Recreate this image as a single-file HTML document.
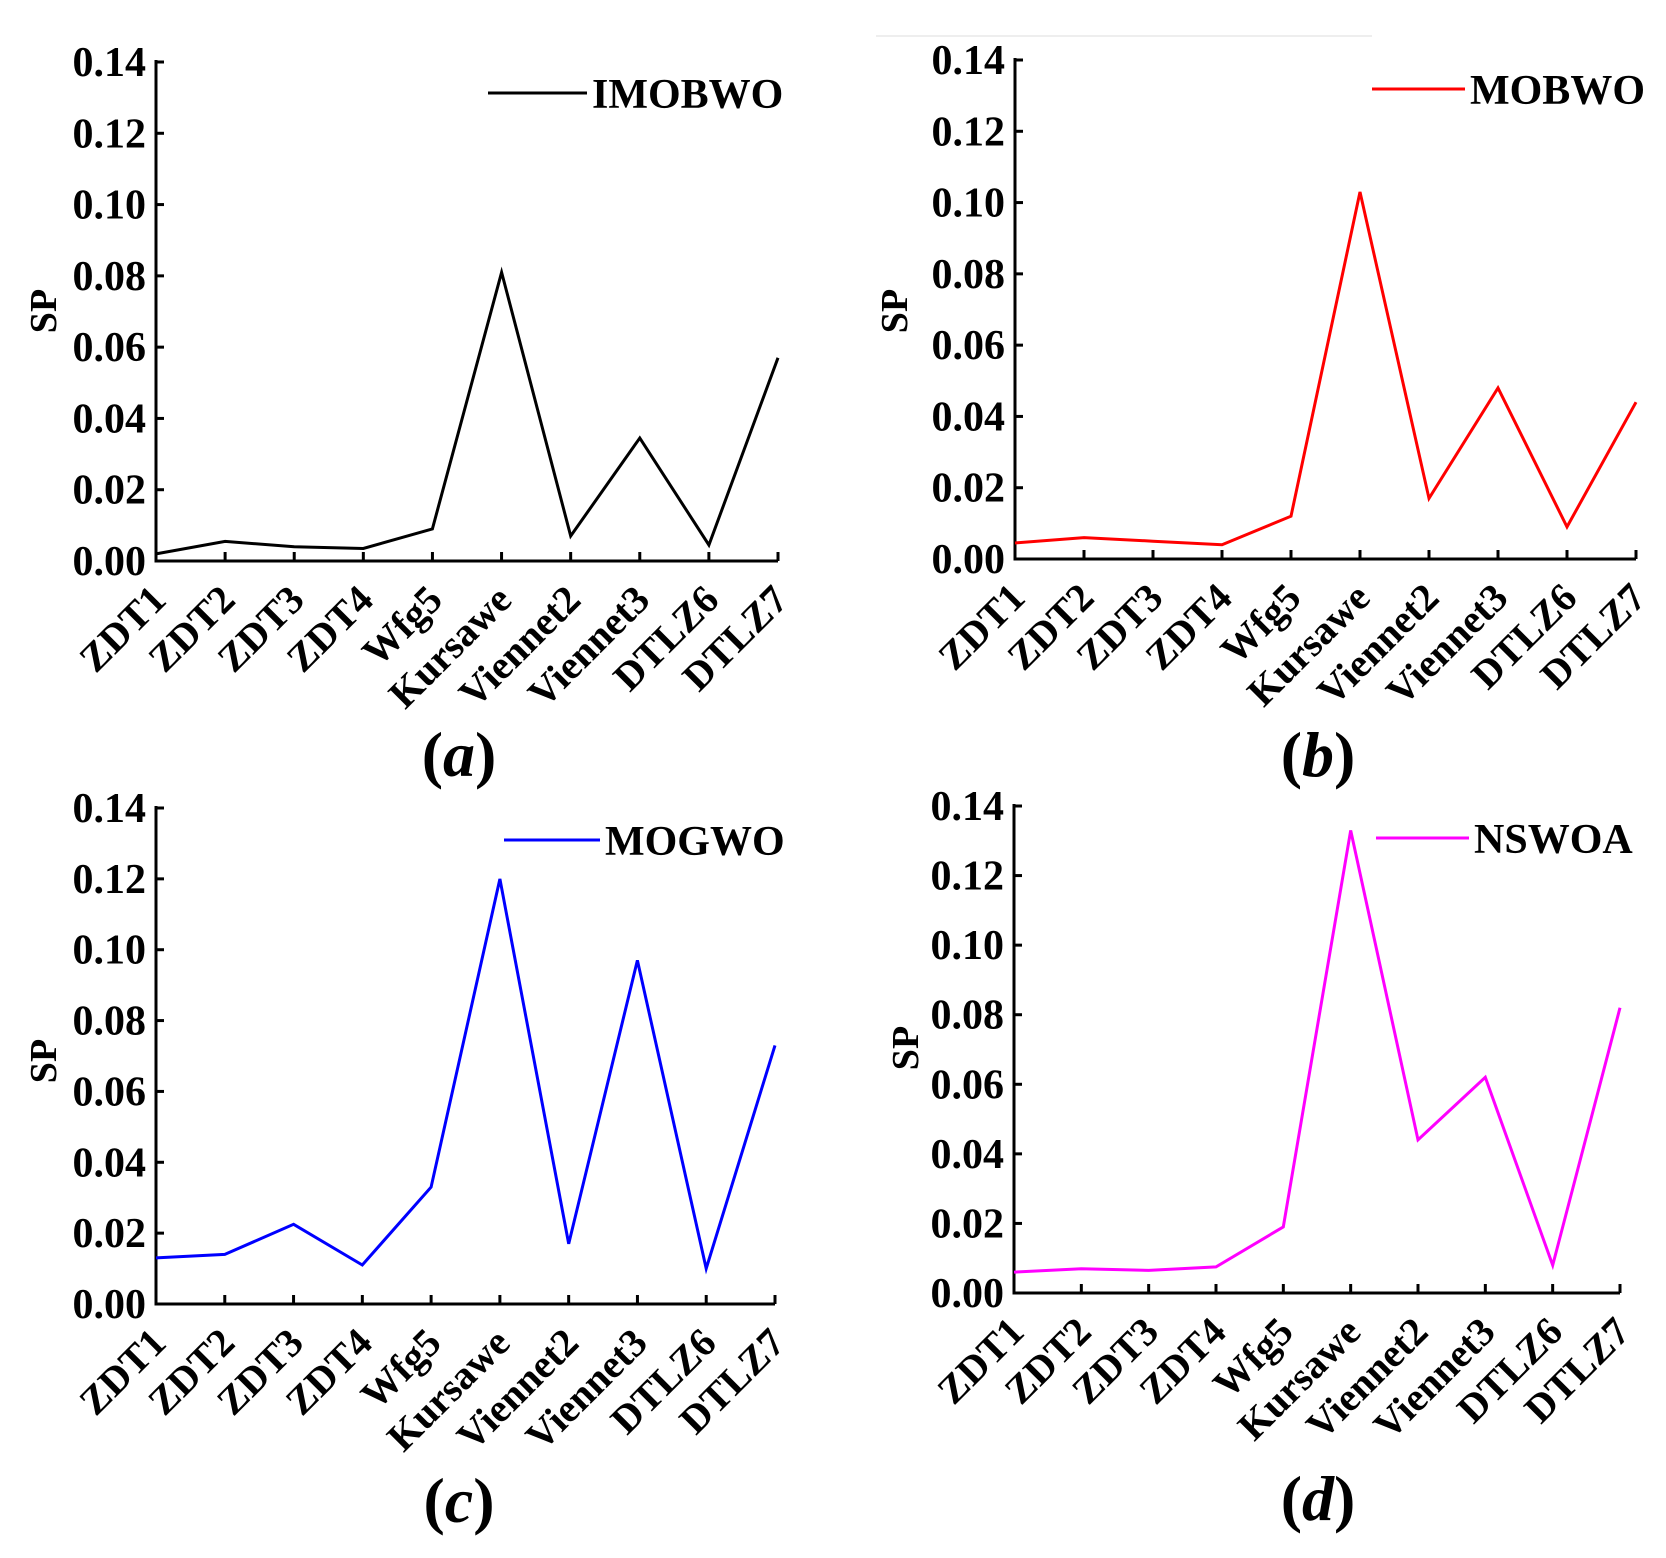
<!DOCTYPE html>
<html><head><meta charset="utf-8"><style>
html,body{margin:0;padding:0;background:#fff;}
svg{display:block;font-family:"Liberation Serif",serif;font-weight:bold;}
</style></head><body>
<svg id="fig" width="1666" height="1558" viewBox="0 0 1666 1558">
<line x1="876" y1="36" x2="1372" y2="36" stroke="#eee" stroke-width="2"/>
</svg>
<script>
const categories = ["ZDT1","ZDT2","ZDT3","ZDT4","Wfg5","Kursawe","Viennet2","Viennet3","DTLZ6","DTLZ7"];
const yTicks = [0,0.02,0.04,0.06,0.08,0.10,0.12,0.14];
const yTickLabels = ["0.00","0.02","0.04","0.06","0.08","0.10","0.12","0.14"];
const seriesA = [0.002,0.0055,0.004,0.0035,0.009,0.081,0.007,0.0345,0.0045,0.057];
const seriesB = [0.0045,0.006,0.005,0.004,0.012,0.103,0.017,0.048,0.009,0.044];
const seriesC = [0.013,0.014,0.0225,0.011,0.033,0.120,0.017,0.097,0.010,0.073];
const seriesD = [0.006,0.007,0.0065,0.0075,0.019,0.133,0.044,0.062,0.008,0.082];
const seriesNames = ["IMOBWO","MOBWO","MOGWO","NSWOA"];
const captions = ["(a)","(b)","(c)","(d)"];

const NS="http://www.w3.org/2000/svg";
const svg=document.getElementById('fig');
function mk(tag,attrs,parent){const e=document.createElementNS(NS,tag);for(const k in attrs)e.setAttribute(k,attrs[k]);(parent||svg).appendChild(e);return e;}

const panels=[
 {id:'a',data:seriesA,color:'#000',x0:156,x1:778,y0:561,y14:62,leg:[488,587,93],sp:[43,311],cap:[459,754]},
 {id:'b',data:seriesB,color:'#ff0000',x0:1015,x1:1636,y0:559,y14:60,leg:[1372,1465,89],sp:[894,311],cap:[1318,754]},
 {id:'c',data:seriesC,color:'#0000ff',x0:156,x1:775,y0:1304,y14:808,leg:[504,600,840],sp:[43,1061],cap:[459,1500]},
 {id:'d',data:seriesD,color:'#ff00ff',x0:1014,x1:1620,y0:1293,y14:806,leg:[1376,1469,838],sp:[905,1048],cap:[1318,1498]}
];

panels.forEach((p,pi)=>{
  const g=mk('g',{});
  
  
  const xs=i=>p.x0+(p.x1-p.x0)*i/(categories.length-1);
  const ys=v=>p.y0-(p.y0-p.y14)*v/0.14;
  const ax=mk('path',{d:`M${p.x0},${p.y14-2} L${p.x0},${p.y0} L${p.x1},${p.y0}`,fill:'none',stroke:'#000','stroke-width':3},g);
  
  
  yTicks.forEach((v,i)=>{
    const y=ys(v);
    const t=mk('line',{x1:p.x0,y1:y,x2:p.x0+8,y2:y,stroke:'#000','stroke-width':3},g);
    
    
    const l=mk('text',{x:p.x0-10,y:y+14,'text-anchor':'end','font-size':42},g);
    l.textContent=yTickLabels[i];
    
    
  });
  categories.forEach((c,i)=>{
    const x=xs(i);
    const t=mk('line',{x1:x,y1:p.y0,x2:x,y2:p.y0-9,stroke:'#000','stroke-width':3},g);
    
    
    const tx=x+12, ty=p.y0+41;
    const l=mk('text',{x:tx,y:ty,'text-anchor':'end','font-size':40,transform:`rotate(-45 ${tx} ${ty})`},g);
    l.textContent=c;
    
    
  });
  const pts=p.data.map((v,i)=>xs(i).toFixed(1)+','+ys(v).toFixed(1)).join(' ');
  const ln=mk('polyline',{points:pts,fill:'none',stroke:p.color,'stroke-width':3,'stroke-linejoin':'miter'},g);
  
  
  const ll=mk('line',{x1:p.leg[0],y1:p.leg[2],x2:p.leg[1],y2:p.leg[2],stroke:p.color,'stroke-width':3},g);
  
  
  const lt=mk('text',{x:p.leg[1]+5,y:p.leg[2]+15,'font-size':42},g);
  lt.textContent=seriesNames[pi];
  
  
  const sp=mk('text',{x:p.sp[0],y:p.sp[1],'text-anchor':'middle','font-size':38,transform:`rotate(-90 ${p.sp[0]} ${p.sp[1]})`,dy:13},g);
  sp.textContent='SP';
  
  
  const cp=mk('text',{x:p.cap[0],y:p.cap[1]+22,'text-anchor':'middle','font-size':64},g);
  cp.innerHTML='(<tspan font-style="italic">'+captions[pi].slice(1,-1)+'</tspan>)';
  
  
});
</script>
</body></html>
